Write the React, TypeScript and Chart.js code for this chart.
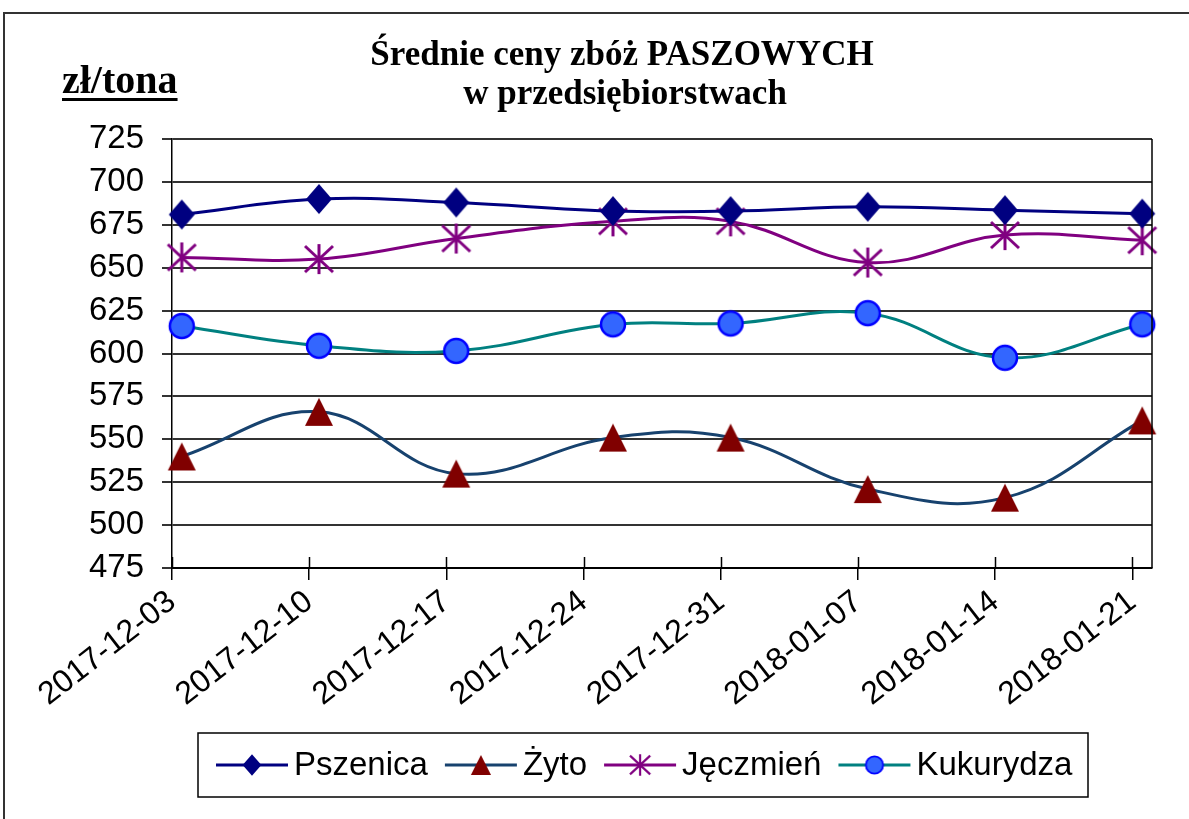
import React, { useEffect, useRef } from "react";
import { Chart, registerables } from "chart.js";

Chart.register(...registerables);

// ---- data ----
const tickLabels = ["2017-12-03", "2017-12-10", "2017-12-17", "2017-12-24", "2017-12-31", "2018-01-07", "2018-01-14", "2018-01-21"];
const tickDays = [0, 7, 14, 21, 28, 35, 42, 49];
// observation day (days after 2017-12-03); the Christmas-week quote is plotted one day later
const pointDays = [0, 7, 14, 22, 28, 35, 42, 49];
const pszenica = [681, 690, 688, 683, 683, 685.5, 683.5, 681.5];
const zyto = [540, 566, 530, 551, 551, 521, 516, 561];
const jeczmien = [656, 655, 667, 677, 677, 653, 669, 666];
const kukurydza = [616, 604.5, 601.5, 617, 617.5, 623.5, 597.5, 617];
const seriesNames = ["Pszenica", "Żyto", "Jęczmień", "Kukurydza"];
const yMin = 475;
const yMax = 725;
const yStep = 25;

const SANS = "'Liberation Sans', Arial, sans-serif";
const SERIF = "'Liberation Serif', 'Times New Roman', serif";

type Kind = "diamond" | "triangle" | "star" | "circle";

function makeMarker(kind: Kind, scale: number): HTMLCanvasElement {
  const c = document.createElement("canvas");
  const S = Math.round(36 * scale) % 2 === 0 ? Math.round(36 * scale) : Math.round(36 * scale) + 1;
  c.width = S;
  c.height = S;
  const ctx = c.getContext("2d")!;
  ctx.translate(S / 2, S / 2);
  ctx.scale(scale, scale);
  if (kind === "diamond") {
    ctx.beginPath();
    ctx.moveTo(0, -15);
    ctx.lineTo(13, 0);
    ctx.lineTo(0, 15);
    ctx.lineTo(-13, 0);
    ctx.closePath();
    ctx.fillStyle = "#000080";
    ctx.fill();
  } else if (kind === "triangle") {
    ctx.beginPath();
    ctx.moveTo(0, -14);
    ctx.lineTo(14, 14);
    ctx.lineTo(-14, 14);
    ctx.closePath();
    ctx.fillStyle = "#800000";
    ctx.fill();
  } else if (kind === "star") {
    ctx.strokeStyle = "#800080";
    ctx.lineWidth = 3;
    ctx.lineCap = "butt";
    ctx.beginPath();
    ctx.moveTo(0, -15);
    ctx.lineTo(0, 15);
    ctx.moveTo(-14, -13);
    ctx.lineTo(14, 13);
    ctx.moveTo(14, -13);
    ctx.lineTo(-14, 13);
    ctx.stroke();
  } else {
    ctx.beginPath();
    ctx.arc(0, 0, 12, 0, Math.PI * 2);
    ctx.fillStyle = "#3366FF";
    ctx.fill();
    ctx.lineWidth = 2.5;
    ctx.strokeStyle = "#0000FF";
    ctx.stroke();
  }
  return c;
}

const decorPlugin = {
  id: "decor",
  afterDraw(chart: any) {
    const ctx = chart.ctx as CanvasRenderingContext2D;
    const area = chart.chartArea;
    ctx.save();
    // outer frame (top + left)
    ctx.strokeStyle = "#333";
    ctx.lineWidth = 2;
    ctx.beginPath();
    ctx.moveTo(4, chart.height);
    ctx.lineTo(4, 13);
    ctx.lineTo(chart.width, 13);
    ctx.stroke();

    // right border of plot area
    ctx.strokeStyle = "#000";
    ctx.lineWidth = 1.5;
    ctx.beginPath();
    ctx.moveTo(area.right, area.top);
    ctx.lineTo(area.right, area.bottom);
    ctx.stroke();

    // inner halves of the crossing x tick marks
    const xs = chart.scales.x;
    ctx.lineWidth = 1.5;
    ctx.beginPath();
    tickDays.forEach((d) => {
      const px = Math.round(xs.getPixelForValue(d)) + 0.5;
      ctx.moveTo(px, area.bottom - 11);
      ctx.lineTo(px, area.bottom);
    });
    ctx.stroke();

    // title
    ctx.fillStyle = "#000";
    ctx.textAlign = "center";
    ctx.textBaseline = "alphabetic";
    ctx.font = `bold 35px ${SERIF}`;
    ctx.fillText("Średnie ceny zbóż PASZOWYCH", 622, 65);
    ctx.fillText("w przedsiębiorstwach", 625, 104);

    // unit label
    ctx.textAlign = "left";
    ctx.font = `bold 40px ${SERIF}`;
    ctx.fillText("zł/tona", 62, 93);
    const w = ctx.measureText("zł/tona").width;
    ctx.fillRect(62, 98, w, 3);

    // legend
    const lg = { left: 198, top: 733, right: 1088, bottom: 797 };
    ctx.strokeStyle = "#000";
    ctx.lineWidth = 1.5;
    ctx.strokeRect(lg.left, lg.top, lg.right - lg.left, lg.bottom - lg.top);
    const cy = (lg.top + lg.bottom) / 2;
    let x = 216;
    ctx.font = `33px ${SANS}`;
    ctx.textBaseline = "middle";
    chart.data.datasets.forEach((ds: any) => {
      ctx.strokeStyle = ds.borderColor;
      ctx.lineWidth = 3;
      ctx.beginPath();
      ctx.moveTo(x, cy);
      ctx.lineTo(x + 72, cy);
      ctx.stroke();
      const m: HTMLCanvasElement = ds.legendMarker;
      ctx.drawImage(m, x + 36 - m.width / 2, cy - m.height / 2);
      x += 78;
      ctx.fillStyle = "#000";
      ctx.fillText(ds.label, x, cy + 1);
      x += ctx.measureText(ds.label).width + 17;
    });
    ctx.restore();
  },
};

export default function App() {
  const canvasRef = useRef<HTMLCanvasElement | null>(null);

  useEffect(() => {
    const canvas = canvasRef.current;
    if (!canvas) return;
    const toPts = (vals: number[]) => pointDays.map((d, i) => ({ x: d + 0.5, y: vals[i] }));
    const mk = (
      label: string,
      vals: number[],
      color: string,
      kind: Kind
    ) => ({
      label,
      data: toPts(vals),
      borderColor: color,
      backgroundColor: color,
      borderWidth: 3,
      tension: 0.4,
      pointStyle: makeMarker(kind, 1),
      legendMarker: makeMarker(kind, 0.72),
      pointRadius: 14,
      pointHoverRadius: 14,
      clip: false,
    });

    const chart = new Chart(canvas, {
      type: "line",
      data: {
        datasets: [
          mk(seriesNames[0], pszenica, "#000080", "diamond"),
          mk(seriesNames[1], zyto, "#17426E", "triangle"),
          mk(seriesNames[2], jeczmien, "#800080", "star"),
          mk(seriesNames[3], kukurydza, "#008080", "circle"),
        ] as any,
      },
      options: {
        animation: false,
        responsive: false,
        devicePixelRatio: 1,
        layout: { padding: { left: 0, top: 139, right: 37, bottom: 0 } },
        plugins: {
          legend: { display: false },
          title: { display: false },
          tooltip: { enabled: false },
        },
        scales: {
          x: {
            type: "linear",
            min: 0,
            max: 50,
            afterBuildTicks: (scale: any) => {
              scale.ticks = tickDays.map((v) => ({ value: v }));
            },
            afterFit: (scale: any) => {
              scale.height = 251;
              scale.paddingLeft = 0;
              scale.paddingRight = 0;
              scale.paddingTop = 0;
              scale.paddingBottom = 0;
            },
            ticks: {
              autoSkip: false,
              minRotation: 38,
              maxRotation: 38,
              padding: 3,
              color: "#000",
              font: { family: SANS, size: 32 },
              callback: (value: any) => {
                const i = tickDays.indexOf(Number(value));
                return i >= 0 ? tickLabels[i] : "";
              },
            },
            grid: {
              display: true,
              drawOnChartArea: false,
              drawTicks: true,
              tickLength: 12,
              color: "#000",
              lineWidth: 1.5,
            },
            border: { display: true, color: "#000", width: 2 },
          },
          y: {
            type: "linear",
            min: yMin,
            max: yMax,
            afterFit: (scale: any) => {
              scale.width = 172;
              scale.paddingTop = 0;
              scale.paddingBottom = 0;
              scale.paddingLeft = 0;
              scale.paddingRight = 0;
            },
            ticks: {
              stepSize: yStep,
              padding: 18,
              color: "#000",
              font: { family: SANS, size: 33 },
            },
            grid: {
              color: "#333",
              lineWidth: 2,
              tickLength: 10,
              drawTicks: true,
            },
            border: { display: true, color: "#000", width: 1.5 },
          },
        },
      },
      plugins: [decorPlugin],
    } as any);
    return () => chart.destroy();
  }, []);

  return (
    <div style={{ position: "fixed", left: 0, top: 0, width: 1189, height: 819, background: "#fff" }}>
      <canvas ref={canvasRef} width={1189} height={819} style={{ display: "block" }} />
    </div>
  );
}
